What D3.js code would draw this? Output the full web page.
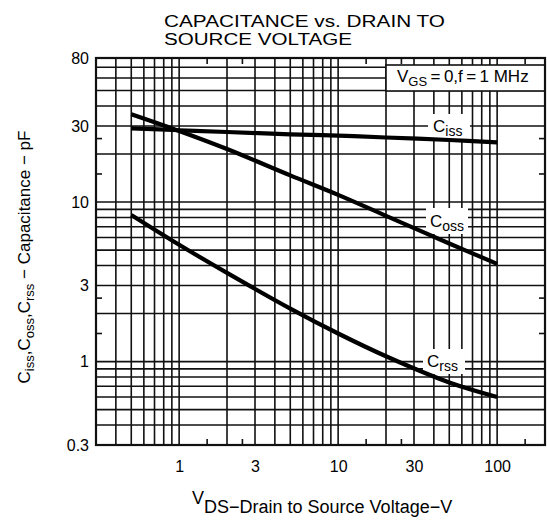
<!DOCTYPE html>
<html>
<head>
<meta charset="utf-8">
<script src="https://cdn.jsdelivr.net/npm/d3@7"></script>
<style>
  body { margin: 0; background: #fff; }
  svg { display: block; font-family: "Liberation Sans", Arial, sans-serif; }
</style>
</head>
<body>
<svg id="chart" width="547" height="527"></svg>
<script>
// values (VDS in volts, capacitance in pF)
var vds  = [0.5, 1, 2, 5, 10, 20, 50, 100];
var ciss = [29, 28.2, 27.5, 26.6, 26.1, 25.4, 24.5, 23.7];
var coss = [35.5, 27.9, 21.5, 14.7, 11.1, 8.2, 5.5, 4.1];
var crss = [8.3, 5.4, 3.6, 2.15, 1.5, 1.08, 0.74, 0.60];

var xTickLabels = [1, 3, 10, 30, 100];
var yTickLabels = [0.3, 1, 3, 10, 30, 80];
var xHalfTicks = [1.5, 2.5, 15, 25, 150];
var yHalfTicks = [1.5, 2.5, 15, 25];

var margin = {top: 58, right: 2, bottom: 82, left: 96},
    width = 547 - margin.left - margin.right,
    height = 527 - margin.top - margin.bottom;

var svg = d3.select("#chart");
var g = svg.append("g").attr("transform", "translate(" + margin.left + "," + margin.top + ")");

var xScale = d3.scaleLog().domain([0.3, 200]).range([0, width]);
var yScale = d3.scaleLog().domain([0.3, 80]).range([height, 0]);

// grid (1..9 per decade)
var xGrid = xScale.ticks().filter(function (d) { return d > 0.3 && d < 200; });
var yGrid = yScale.ticks().filter(function (d) { return d > 0.3 && d < 80; });

g.append("g").selectAll("line").data(xGrid).enter().append("line")
    .attr("x1", function (d) { return xScale(d); })
    .attr("x2", function (d) { return xScale(d); })
    .attr("y1", 0).attr("y2", height)
    .attr("stroke", "#111").attr("stroke-width", 1.6);

g.append("g").selectAll("line").data(yGrid).enter().append("line")
    .attr("y1", function (d) { return yScale(d); })
    .attr("y2", function (d) { return yScale(d); })
    .attr("x1", 0).attr("x2", width)
    .attr("stroke", "#111").attr("stroke-width", 1.6);

// half ticks on all four sides
var tk = 6;
xHalfTicks.forEach(function (v) {
    g.append("line").attr("x1", xScale(v)).attr("x2", xScale(v)).attr("y1", height).attr("y2", height - tk)
        .attr("stroke", "#111").attr("stroke-width", 1.6);
    g.append("line").attr("x1", xScale(v)).attr("x2", xScale(v)).attr("y1", 0).attr("y2", tk)
        .attr("stroke", "#111").attr("stroke-width", 1.6);
});
yHalfTicks.forEach(function (v) {
    g.append("line").attr("y1", yScale(v)).attr("y2", yScale(v)).attr("x1", 0).attr("x2", tk)
        .attr("stroke", "#111").attr("stroke-width", 1.6);
    g.append("line").attr("y1", yScale(v)).attr("y2", yScale(v)).attr("x1", width).attr("x2", width - tk)
        .attr("stroke", "#111").attr("stroke-width", 1.6);
});

// white boxes behind the curve labels
var labelBoxes = [
    {x: 332, y: 56, w: 42, h: 25},
    {x: 330, y: 150, w: 42, h: 26},
    {x: 327, y: 291, w: 42, h: 25}
];
g.append("g").selectAll("rect").data(labelBoxes).enter().append("rect")
    .attr("x", function (d) { return d.x; })
    .attr("y", function (d) { return d.y; })
    .attr("width", function (d) { return d.w; })
    .attr("height", function (d) { return d.h; })
    .attr("fill", "#fff");

// condition box
g.append("rect").attr("x", xScale(20)).attr("y", 7)
    .attr("width", width - xScale(20)).attr("height", 26)
    .attr("fill", "#fff").attr("stroke", "#111").attr("stroke-width", 1.6);

// border
g.append("rect").attr("width", width).attr("height", height)
    .attr("fill", "none").attr("stroke", "#111").attr("stroke-width", 2.2);

// curves
var line = d3.line()
    .x(function (d) { return xScale(d[0]); })
    .y(function (d) { return yScale(d[1]); })
    .curve(d3.curveCatmullRom.alpha(0.5));

[ciss, coss, crss].forEach(function (s) {
    g.append("path")
        .datum(vds.map(function (v, i) { return [v, s[i]]; }))
        .attr("d", line)
        .attr("fill", "none")
        .attr("stroke", "#000")
        .attr("stroke-width", 4.2);
});

// axes labels (numbers only)
var xAxis = g.append("g").attr("transform", "translate(0," + height + ")")
    .call(d3.axisBottom(xScale).tickValues(xTickLabels).tickSize(0).tickPadding(16).tickFormat(d3.format("")));
xAxis.select(".domain").remove();
xAxis.selectAll("text").attr("font-size", 16).attr("font-family", "Liberation Sans, Arial, sans-serif").attr("fill", "#000");

var yAxis = g.append("g")
    .call(d3.axisLeft(yScale).tickValues(yTickLabels).tickSize(0).tickPadding(7).tickFormat(d3.format("")));
yAxis.select(".domain").remove();
yAxis.selectAll("text").attr("font-size", 16).attr("font-family", "Liberation Sans, Arial, sans-serif").attr("fill", "#000");

// curve labels
function subLabel(x, y, main, sub) {
    var t = svg.append("text").attr("x", x).attr("y", y).attr("font-size", 17).attr("fill", "#000");
    t.append("tspan").text(main);
    t.append("tspan").attr("dy", 4).attr("font-size", 14).text(sub);
    return t;
}
subLabel(433, 132, "C", "iss");
subLabel(430, 227, "C", "oss");
subLabel(427, 367, "C", "rss");

// condition text
var cond = svg.append("text").attr("x", 397).attr("y", 82).attr("font-size", 17).attr("fill", "#000");
cond.append("tspan").text("V");
cond.append("tspan").attr("dy", 4).attr("font-size", 13).text("GS");
cond.append("tspan").attr("dy", -4).text("\u2009=\u20090,f\u2009=\u20091 MHz");

// title
svg.append("text").attr("x", 164).attr("y", 27).attr("font-size", 16)
    .attr("textLength", 281).attr("lengthAdjust", "spacingAndGlyphs").text("CAPACITANCE vs. DRAIN TO");
svg.append("text").attr("x", 164).attr("y", 45).attr("font-size", 16)
    .attr("textLength", 188).attr("lengthAdjust", "spacingAndGlyphs").text("SOURCE VOLTAGE");

// x title
var xt = svg.append("text").attr("x", 192).attr("y", 513).attr("font-size", 18).attr("fill", "#000");
xt.append("tspan").attr("dy", -9).text("V");
xt.append("tspan").attr("dy", 9).text("DS");
xt.append("tspan").text("\u2212Drain to Source Voltage\u2212V");

// y title
var yt = svg.append("text").attr("transform", "translate(30,257) rotate(-90)")
    .attr("text-anchor", "middle").attr("font-size", 17).attr("fill", "#000");
[["C", "iss", ","], ["C", "oss", ","], ["C", "rss", " \u2212 Capacitance \u2212 pF"]].forEach(function (p) {
    yt.append("tspan").text(p[0]);
    yt.append("tspan").attr("dy", 4).attr("font-size", 13).text(p[1]);
    yt.append("tspan").attr("dy", -4).text(p[2]);
});
</script>
</body>
</html>
